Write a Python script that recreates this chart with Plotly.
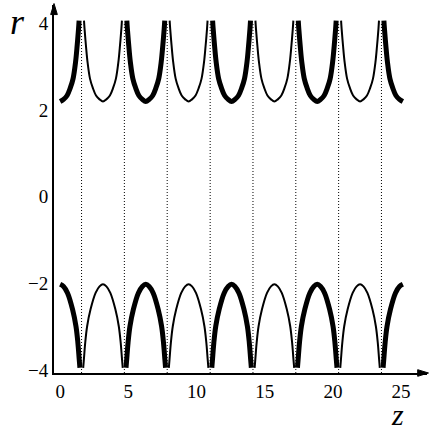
import plotly.graph_objects as go

# arc profile: offset from arc centre (z) and radius r
upper_d = [0, 0.25, 0.51, 0.75, 0.95, 1.13, 1.25, 1.35, 1.39]
upper_r = [2.2, 2.25, 2.34, 2.52, 2.73, 3.11, 3.5, 3.88, 4.07]
lower_d = [0, 0.25, 0.54, 0.91, 1.16, 1.30, 1.40, 1.45]
lower_r = [-2.02, -2.07, -2.22, -2.60, -2.99, -3.37, -3.76, -3.95]

# centres of the arcs along z, and which ones are drawn thick
arc_centres = [0, 3.14, 6.28, 9.42, 12.57, 15.71, 18.85, 21.99, 25.13]
arc_thick = [True, False, True, False, True, False, True, False, True]

# dotted vertical guides
guide_z = [1.57, 4.71, 7.85, 11.0, 14.14, 17.28, 20.42, 23.56]
guide_r = [-4.07, 4.0]

x_ticks = [0, 5, 10, 15, 20, 25]
y_ticks = [-4, -2, 0, 2, 4]
y_ticktext = ["\u22124", "\u22122", "0", "2", "4"]

z_min, z_max = 0, 25.2
font = "Liberation Serif"


def arc_points(centre, d, r):
    # mirror the half profile round the centre, keep the part inside the z range
    zs = [centre - v for v in d[::-1]] + [centre + v for v in d[1:]]
    rs = r[::-1] + r[1:]
    pts = [(a, b) for a, b in zip(zs, rs) if z_min <= a <= z_max]
    return [p[0] for p in pts], [p[1] for p in pts]


fig = go.Figure()

# dotted guides
gx, gy = [], []
for z in guide_z:
    gx += [z, z, None]
    gy += guide_r + [None]
fig.add_trace(go.Scatter(x=gx, y=gy, mode="lines",
                         line=dict(color="black", width=1, dash="1px,2px"),
                         showlegend=False, hoverinfo="skip"))

# arcs
for c, thick in zip(arc_centres, arc_thick):
    w = 5 if thick else 2
    for d, r in [(upper_d, upper_r), (lower_d, lower_r)]:
        xs, ys = arc_points(c, d, r)
        fig.add_trace(go.Scatter(x=xs, y=ys, mode="lines",
                                 line=dict(color="black", width=w, shape="spline"),
                                 showlegend=False))

fig.update_layout(
    width=436, height=433,
    margin=dict(l=54, r=9, t=5, b=60),
    plot_bgcolor="white", paper_bgcolor="white",
    font=dict(family=font, size=19, color="black"),
    xaxis=dict(range=[-0.45, 26.9], showgrid=False, zeroline=False,
               showline=True, linecolor="black", linewidth=2,
               tickvals=x_ticks, ticks=""),
    yaxis=dict(range=[-4.07, 4.43], showgrid=False, zeroline=False,
               showline=True, linecolor="black", linewidth=2,
               tickvals=y_ticks, ticktext=y_ticktext, ticks=""),
    shapes=[
        # arrow heads at the ends of the axes
        dict(type="path", xref="paper", yref="paper",
             path="M 1.004,0 L 0.975,0.009 L 0.975,-0.009 Z",
             fillcolor="black", line=dict(color="black", width=1)),
        dict(type="path", xref="paper", yref="paper",
             path="M 0,1.004 L -0.009,0.974 L 0.009,0.974 Z",
             fillcolor="black", line=dict(color="black", width=1)),
    ],
    annotations=[
        # axis titles
        dict(xref="paper", yref="paper", x=-0.099, y=0.954, text="<i>r</i>",
             showarrow=False, xanchor="center", yanchor="middle",
             font=dict(family=font, size=36, color="black")),
        dict(xref="paper", yref="paper", x=0.922, y=-0.114, text="<i>z</i>",
             showarrow=False, xanchor="center", yanchor="middle",
             font=dict(family=font, size=30, color="black")),
    ],
)

# drop the page's default body margin so the figure sits at the window corner
fig.write_html("out.html", config={"displayModeBar": False},
               post_script="document.body.style.margin='0';")
